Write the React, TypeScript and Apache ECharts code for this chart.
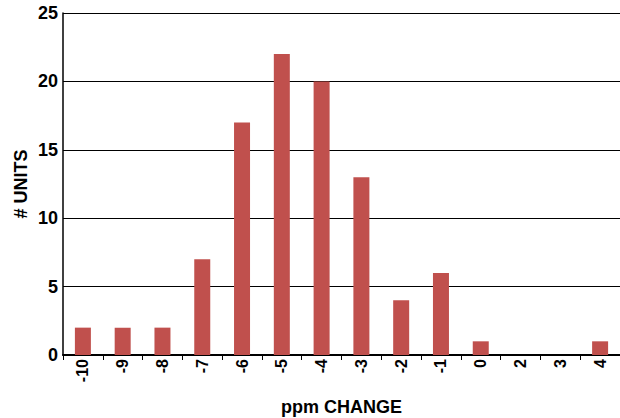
import React, { useEffect, useRef } from "react";
import * as echarts from "echarts";

const categories = ["-10", "-9", "-8", "-7", "-6", "-5", "-4", "-3", "-2", "-1", "0", "2", "3", "4"];
const units = [2, 2, 2, 7, 17, 22, 20, 13, 4, 6, 1, 0, 0, 1];
const yTicks = [0, 5, 10, 15, 20, 25];

export default function App() {
  const ref = useRef<HTMLDivElement>(null);
  useEffect(() => {
    const chart = echarts.init(ref.current!, null, { renderer: "svg" });
    const font = "'Liberation Sans', Arial, sans-serif";
    chart.setOption({
      animation: false,
      grid: { left: 63, right: 0, top: 13, bottom: 63, containLabel: false, outerBoundsMode: "none" },
      xAxis: {
        type: "category",
        data: categories,
        name: "ppm CHANGE",
        nameLocation: "middle",
        nameGap: 43,
        nameMoveOverlap: false,
        nameTextStyle: { fontFamily: font, fontWeight: "bold", fontSize: 18, color: "#000" },
        axisLine: { lineStyle: { color: "#000", width: 2 } },
        axisTick: { show: true, alignWithLabel: false, length: 5, lineStyle: { color: "#000" } },
        axisLabel: { rotate: 90, fontFamily: font, fontWeight: "bold", fontSize: 16, color: "#000", margin: 4 },
      },
      yAxis: {
        type: "value",
        min: yTicks[0],
        max: yTicks[yTicks.length - 1],
        interval: 5,
        name: "# UNITS",
        nameLocation: "middle",
        nameGap: 33,
        nameMoveOverlap: false,
        nameTextStyle: { fontFamily: font, fontWeight: "bold", fontSize: 18, color: "#000" },
        axisLine: { show: true, lineStyle: { color: "#000", width: 1.5 } },
        axisTick: { show: false },
        axisLabel: { fontFamily: font, fontWeight: "bold", fontSize: 18, color: "#000", margin: 5 },
        splitLine: { show: true, lineStyle: { color: "#000", width: 1 } },
      },
      series: [
        {
          type: "bar",
          data: units,
          barWidth: 16,
          itemStyle: { color: "#C0504D" },
        },
      ],
    });
    return () => chart.dispose();
  }, []);
  return <div ref={ref} style={{ width: 620, height: 418, position: "absolute", left: 0, top: 0 }} />;
}
